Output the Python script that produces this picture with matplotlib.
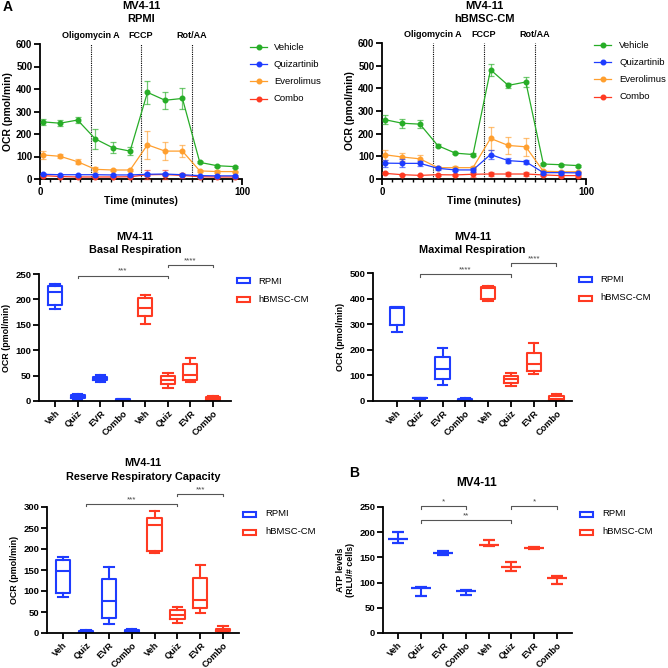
import matplotlib
matplotlib.use("Agg")
import matplotlib.pyplot as plt
from matplotlib.colors import to_rgba
from matplotlib.lines import Line2D
from matplotlib.ticker import MultipleLocator

plt.rcParams["font.family"] = ["Liberation Sans", "DejaVu Sans"]

W = H = 668

# ---- Seahorse time courses (mean +/- SD) ----
times = [1.3, 9.9, 18.6, 27.4, 36.0, 44.6, 53.2, 61.9, 70.5, 79.1, 87.7, 96.3]
injections = [25, 50, 75]
injection_labels = ["Oligomycin A", "FCCP", "Rot/AA"]
series_names = ["Vehicle", "Quizartinib", "Everolimus", "Combo"]

veh_rpmi = [254, 248, 262, 178, 139, 124, 385, 350, 358, 74, 59, 55]
veh_rpmi_err = [14, 13, 15, 45, 25, 18, 50, 37, 45, 5, 4, 5]
quiz_rpmi = [21, 19, 19, 19, 18, 18, 21, 22, 19, 15, 14, 14]
quiz_rpmi_err = [5, 4, 4, 4, 3, 3, 6, 6, 5, 4, 4, 4]
evr_rpmi = [107, 101, 77, 43, 40, 40, 152, 124, 124, 36, 33, 33]
evr_rpmi_err = [17, 8, 11, 10, 5, 4, 62, 40, 28, 6, 5, 4]
combo_rpmi = [15, 11, 9, 9, 9, 10, 19, 20, 16, 10, 9, 9]
combo_rpmi_err = [3, 3, 2, 2, 2, 2, 20, 22, 12, 3, 2, 2]

veh_cm = [262, 246, 242, 147, 114, 108, 482, 413, 428, 66, 63, 59]
veh_cm_err = [20, 20, 18, 6, 5, 5, 27, 12, 22, 4, 4, 4]
quiz_cm = [70, 69, 69, 47, 40, 40, 108, 81, 76, 28, 28, 27]
quiz_cm_err = [15, 18, 12, 8, 6, 8, 18, 10, 8, 6, 6, 6]
evr_cm = [107, 97, 89, 50, 50, 50, 179, 148, 142, 34, 32, 32]
evr_cm_err = [22, 18, 18, 8, 6, 6, 50, 38, 40, 6, 5, 5]
combo_cm = [25, 19, 16, 19, 18, 21, 22, 22, 22, 18, 15, 15]
combo_cm_err = [4, 3, 3, 4, 4, 10, 10, 10, 10, 6, 4, 4]

# ---- box plot summaries: (min, q1, median, q3, max) ----
groups = ["Veh", "Quiz", "EVR", "Combo", "Veh", "Quiz", "EVR", "Combo"]
basal_rpmi = [(181, 189, 214, 226, 231), (1, 5, 8, 11, 14), (38, 41, 45, 48, 51), (0, 1, 2, 3, 4)]
basal_cm = [(151, 168, 183, 202, 209), (26, 34, 41, 49, 56), (37, 42, 52, 72, 84), (1, 2, 5, 7, 9)]
maximal_rpmi = [(268, 296, 364, 366, 369), (9, 10, 11, 12, 13), (64, 84, 124, 173, 208), (2, 4, 6, 8, 10)]
maximal_cm = [(391, 399, 440, 445, 449), (59, 69, 84, 96, 109), (107, 117, 145, 188, 228), (3, 4, 9, 18, 27)]
reserve_rpmi = [(85, 96, 147, 175, 182), (1, 2, 4, 5, 7), (21, 35, 77, 129, 158), (0, 2, 4, 6, 9)]
reserve_cm = [(190, 196, 257, 275, 290), (25, 33, 43, 55, 61), (47, 59, 78, 132, 161), (3, 4, 6, 10, 16)]

# ---- ATP (mean, low, high) ----
atp_rpmi_mean = [186, 89, 158, 83]
atp_rpmi_lo = [179, 73, 155, 76]
atp_rpmi_hi = [200, 91, 162, 86]
atp_cm_mean = [175, 131, 169, 109]
atp_cm_lo = [172, 123, 166, 98]
atp_cm_hi = [184, 141, 171, 113]

# significance brackets: (from, to, height, label)
basal_sig = [(1, 5, 247, "***"), (5, 7, 268, "****")]
maximal_sig = [(1, 5, 496, "****"), (5, 7, 539, "****")]
reserve_sig = [(1, 5, 308, "***"), (5, 7, 332, "***")]
atp_sig = [(1, 3, 251, "*"), (1, 5, 224, "**"), (5, 7, 251, "*")]

GREEN, BLUE, ORANGE, RED = "#27ad27", "#1e3cff", "#ff9f2e", "#ff3a22"
line_colors = [GREEN, BLUE, ORANGE, RED]
SPINE = 1.3


def fx(x):
    return x / W


def fy(y):
    return 1 - y / H


def axes_px(x0, y0, x1, y1):
    return fig.add_axes([fx(x0), fy(y1), (x1 - x0) / W, (y1 - y0) / H])


def style(ax, ticksize=6):
    for s in ["top", "right"]:
        ax.spines[s].set_visible(False)
    for s in ["left", "bottom"]:
        ax.spines[s].set_linewidth(SPINE)
    ax.tick_params(width=SPINE, length=4, labelsize=ticksize, pad=1.5)
    ax.tick_params(which="minor", width=1.0, length=2.5)


fig = plt.figure(figsize=(6.68, 6.68), dpi=100)

# ================= top row =================
tops = [
    (40, 44, 242, 179, "RPMI", [veh_rpmi, quiz_rpmi, evr_rpmi, combo_rpmi],
     [veh_rpmi_err, quiz_rpmi_err, evr_rpmi_err, combo_rpmi_err], 250, 274, 47),
    (382, 43, 586, 179, "hBMSC-CM", [veh_cm, quiz_cm, evr_cm, combo_cm],
     [veh_cm_err, quiz_cm_err, evr_cm_err, combo_cm_err], 594, 619, 45),
]
for x0, y0, x1, y1, cond, vals, errs, lgx, lgtx, lgy in tops:
    ax = axes_px(x0, y0, x1, y1)
    style(ax, 7)
    for i in [3, 2, 1, 0]:
        c = line_colors[i]
        ax.errorbar(times, vals[i], yerr=errs[i], color=c, marker="o", ms=3.3,
                    lw=0.9, elinewidth=0.9, capsize=2.2, capthick=0.9,
                    ecolor=to_rgba(c, 0.65), clip_on=False, zorder=3 + (3 - i))
    for t, lab in zip(injections, injection_labels):
        ax.axvline(t, color="black", ls=(0, (1, 1)), lw=0.8, zorder=1)
        ax.text(t, 1.065, lab, transform=ax.get_xaxis_transform(), ha="center",
                va="center", fontsize=6.5, fontweight="bold")
    ax.set_xlim(0, 100)
    ax.set_ylim(0, 600)
    ax.set_xticks([0, 100])
    ax.xaxis.set_minor_locator(MultipleLocator(5))
    ax.set_yticks(range(0, 601, 100))
    plt.setp(ax.get_xticklabels() + ax.get_yticklabels(), fontweight="bold")
    ax.set_ylabel("OCR (pmol/min)", fontsize=7.5, fontweight="bold", labelpad=2)
    cx = (x0 + x1) / 2
    fig.text(fx(cx), fy(201), "Time (minutes)", ha="center", va="center",
             fontsize=7.5, fontweight="bold")
    fig.text(fx(cx), fy(6), "MV4-11", ha="center", va="center", fontsize=8, fontweight="bold")
    fig.text(fx(cx), fy(19), cond, ha="center", va="center", fontsize=8, fontweight="bold")
    for k, name in enumerate(series_names):
        yy = lgy + 17.2 * k
        fig.add_artist(Line2D([fx(lgx), fx(lgx + 17)], [fy(yy), fy(yy)], color=line_colors[k],
                              lw=0.9, transform=fig.transFigure))
        fig.add_artist(Line2D([fx(lgx + 8.5)], [fy(yy)], color=line_colors[k], marker="o",
                              ms=3.3, transform=fig.transFigure))
        fig.text(fx(lgtx), fy(yy), name, ha="left", va="center", fontsize=6.8)

fig.text(fx(3), fy(7), "A", ha="left", va="center", fontsize=10, fontweight="bold")


# ================= box / ATP panels =================
def make_stats(rows):
    return [dict(whislo=r[0], q1=r[1], med=r[2], q3=r[3], whishi=r[4], fliers=[]) for r in rows]


def sig_brackets(ax, sigs, ymax):
    tick = ymax * 0.02
    for a, b, h, lab in sigs:
        ax.plot([a, a, b, b], [h - tick, h, h, h - tick], color="#555555", lw=0.8,
                clip_on=False)
        ax.text((a + b) / 2, h + ymax * 0.005, lab, ha="center", va="bottom",
                fontsize=5.8, color="#444444", clip_on=False)


def legend_boxes(x, y, tx):
    for k, (c, name) in enumerate(zip([BLUE, RED], ["RPMI", "hBMSC-CM"])):
        yy = y + 18 * k
        fig.add_artist(plt.Rectangle((fx(x), fy(yy + 2.5)), 13 / W, 5 / H, fill=False,
                                     edgecolor=c, lw=1.5, transform=fig.transFigure))
        fig.text(fx(tx), fy(yy), name, ha="left", va="center", fontsize=6.8)


def finish_cat(ax, xlim, ylim, ystep, ylabel):
    ax.set_xlim(*xlim)
    ax.set_ylim(0, ylim)
    ax.set_yticks(range(0, ylim + 1, ystep))
    ax.set_xticks(range(len(groups)))
    ax.set_xticklabels(groups, rotation=45, ha="right", rotation_mode="anchor", fontsize=6.6)
    plt.setp(ax.get_xticklabels() + ax.get_yticklabels(), fontweight="bold")
    ax.set_ylabel(ylabel, fontsize=6.4, fontweight="bold", labelpad=3)


boxes = [
    (39, 274, 231, 401, (-0.72, 7.8), 250, 50, basal_rpmi, basal_cm, basal_sig,
     "Basal Respiration", 237, 250, (237, 281, 258)),
    (373, 273, 572, 401, (-1.05, 7.68), 500, 100, maximal_rpmi, maximal_cm, maximal_sig,
     "Maximal Respiration", 237, 250, (579, 280, 600)),
    (47, 507, 239, 633, (-0.70, 7.69), 300, 50, reserve_rpmi, reserve_cm, reserve_sig,
     "Reserve Respiratory Capacity", 463, 477, (243, 514, 265)),
]
for x0, y0, x1, y1, xlim, ylim, ystep, rp, cm, sigs, title, t1, t2, lg in boxes:
    ax = axes_px(x0, y0, x1, y1)
    style(ax, 6.8)
    for data, pos, c in [(rp, range(0, 4), BLUE), (cm, range(4, 8), RED)]:
        kw = dict(color=c, lw=1.5)
        ax.bxp(make_stats(data), positions=list(pos), widths=0.62, showfliers=False,
               boxprops=kw, whiskerprops=kw, capprops=kw, medianprops=kw,
               capwidths=0.42, manage_ticks=False)
    sig_brackets(ax, sigs, ylim)
    finish_cat(ax, xlim, ylim, ystep, "OCR (pmol/min)")
    cx = (x0 + x1) / 2
    fig.text(fx(cx), fy(t1), "MV4-11", ha="center", va="center", fontsize=7.8, fontweight="bold")
    fig.text(fx(cx), fy(t2), title, ha="center", va="center", fontsize=7.8, fontweight="bold")
    legend_boxes(*lg)

# ATP panel
ax = axes_px(383, 507, 572, 633)
style(ax, 6.8)
for mean, lo, hi, pos, c in [(atp_rpmi_mean, atp_rpmi_lo, atp_rpmi_hi, range(0, 4), BLUE),
                             (atp_cm_mean, atp_cm_lo, atp_cm_hi, range(4, 8), RED)]:
    yerr = [[m - l for m, l in zip(mean, lo)], [h - m for m, h in zip(mean, hi)]]
    ax.errorbar(list(pos), mean, yerr=yerr, fmt="_", ms=14, mew=1.6, color=c,
                elinewidth=1.5, capsize=4, capthick=1.5)
sig_brackets(ax, atp_sig, 250)
finish_cat(ax, (-0.66, 7.67), 250, 50, "ATP levels\n(RLU/# cells)")
fig.text(fx(477), fy(483), "MV4-11", ha="center", va="center", fontsize=8.5, fontweight="bold")
fig.text(fx(349), fy(473), "B", ha="left", va="center", fontsize=10, fontweight="bold")
legend_boxes(580, 514, 602)

fig.savefig("out.png", dpi=100)
